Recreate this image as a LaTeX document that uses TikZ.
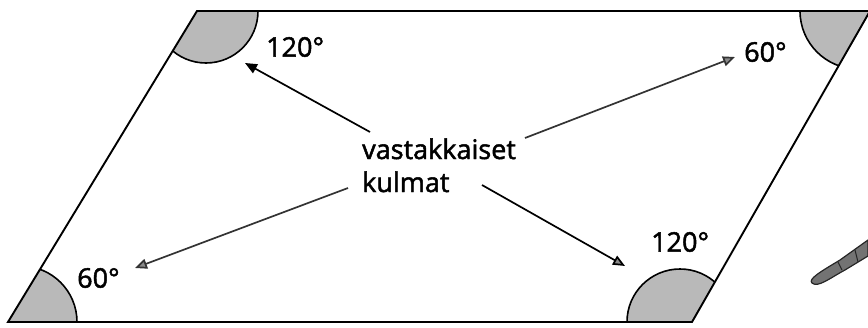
\documentclass[tikz,border=0pt]{standalone}
\usepackage{fontspec}
\setmainfont{Open Sans}
\newfontfamily\lblfont{Open Sans}[FakeBold=1.8]
\usetikzlibrary{arrows.meta}
\definecolor{anglegray}{HTML}{B9B9B9}
\definecolor{tipgray}{HTML}{8A8A8A}
\tikzset{
  edge/.style={line width=1.9pt, line join=miter},
  arcline/.style={line width=1.6pt},
  lbl/.style={inner sep=0pt, font=\lblfont\fontsize{27}{33}\selectfont},
  arr/.style={line width=1.7pt, -{Triangle[length=12pt,width=10pt]}},
  arrg/.style={arr, draw=black!80, -{Triangle[length=12pt,width=10pt,fill=tipgray]}},
}
\begin{document}
\begin{tikzpicture}[x=1pt,y=-1pt]
\useasboundingbox (0,0) rectangle (868,327);
\coordinate (A) at (8,322);
\coordinate (B) at (692,322);
\coordinate (C) at (870,11);
\coordinate (D) at (197,11);
\begin{scope}
  \clip (A)--(B)--(C)--(D)--cycle;
  \fill[anglegray] (206,11) circle[radius=52pt];
  \fill[anglegray] (680,322) circle[radius=53pt];
  \fill[anglegray] (21,322) circle[radius=56pt];
  \fill[anglegray] (858,11) circle[radius=58pt];
  \draw[arcline] (206,11) circle[radius=52pt];
  \draw[arcline] (680,322) circle[radius=53pt];
  \draw[arcline] (21,322) circle[radius=56pt];
  \draw[arcline] (858,11) circle[radius=58pt];
\end{scope}
\draw[edge] (A)--(B)--(C)--(D)--cycle;
% labels
\node[lbl, anchor=west] (tl) at (266,47) {120°};
\node[lbl, anchor=west] (tr) at (744,52) {60°};
\node[lbl, anchor=west] (bl) at (77,278) {60°};
\node[lbl, anchor=west] (br) at (651,242) {120°};
\node[lbl, anchor=base west] (vk) at (362,159) {vastakkaiset};
\node[lbl, anchor=base west] (km) at (362,192) {kulmat};
% arrows
\coordinate (s1) at (370,132);
\coordinate (e1) at (245,63);
\coordinate (s2) at (525,138);
\coordinate (e2) at (735,57);
\coordinate (s3) at (348,188);
\coordinate (e3) at (135,268);
\coordinate (s4) at (482,185);
\coordinate (e4) at (625,266);
\draw[arr] (s1) -- (e1);
\draw[arrg] (s2) -- (e2);
\draw[arrg] (s3) -- (e3);
\draw[arr, -{Triangle[length=12pt,width=10pt,fill=tipgray]}] (s4) -- (e4);
% partial object at right edge
\fill[black!55, draw=black!85, line width=1.2pt]
  (812,283) .. controls (808,279) and (820,272) .. (840,260)
  -- (868,240) -- (868,256) -- (845,270)
  .. controls (830,278) and (818,288) .. (812,283) -- cycle;
\draw[black!85, line width=1pt] (838,262) -- (842,270);
\draw[black!85, line width=1pt] (855,250) -- (858,262);
\end{tikzpicture}
\end{document}
